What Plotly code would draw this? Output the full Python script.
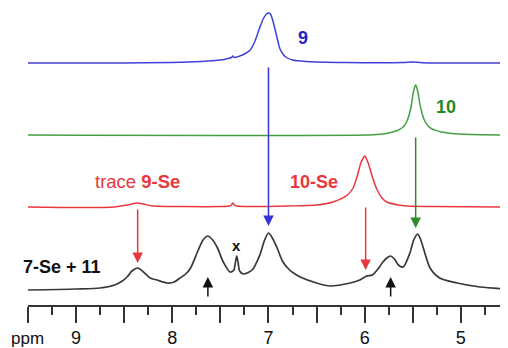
import plotly.graph_objects as go

# ---- data (ppm, intensity above each trace's own baseline) ----
blue_ppm = [9.5, 8.5, 8.0, 7.7, 7.5, 7.42, 7.385, 7.37, 7.355, 7.3, 7.25, 7.19, 7.14, 7.10, 7.05, 7.02, 7.0, 6.98, 6.96, 6.93, 6.9, 6.88, 6.85, 6.82, 6.75, 6.6, 6.2, 5.6, 5.5, 5.4, 5.0, 4.51]
blue_int = [0, 0, 0.5, 1.5, 3, 4.5, 5.5, 7, 5.5, 7, 9, 13, 22, 33, 45, 49, 50, 49, 44, 33, 21, 14, 9, 6, 3, 1.5, 0.5, 0.5, 1, 0.3, 0, 0]

green_ppm = [9.5, 6.0, 5.84, 5.75, 5.66, 5.6, 5.56, 5.52, 5.495, 5.48, 5.47, 5.46, 5.445, 5.42, 5.38, 5.34, 5.3, 5.27, 5.2, 5.1, 4.9, 4.51]
green_int = [0, 0, 0.8, 2, 4.5, 8, 14, 27, 42, 48, 50, 48, 42, 28, 15, 9, 6, 5, 3, 1.5, 0.5, 0]

red_ppm = [9.5, 8.6, 8.47, 8.40, 8.36, 8.30, 8.2, 7.9, 7.5, 7.41, 7.385, 7.37, 7.355, 7.33, 7.2, 6.8, 6.5, 6.33, 6.18, 6.12, 6.08, 6.04, 6.015, 6.0, 5.985, 5.96, 5.92, 5.87, 5.82, 5.77, 5.65, 5.56, 5.3, 4.51]
red_int = [0, 0, 2, 3.5, 4, 3, 1, 0.5, 0.5, 1, 2, 4, 2, 1, 0.5, 1, 2, 5, 12, 19, 30, 44, 49, 51, 49, 43, 30, 17, 9, 5, 2, 1, 0.5, 0]

black_ppm = [9.5, 9.0, 8.75, 8.6, 8.52, 8.47, 8.42, 8.36, 8.30, 8.23, 8.16, 8.05, 7.98, 7.92, 7.86, 7.81, 7.73, 7.68, 7.63, 7.58, 7.53, 7.47, 7.40, 7.36, 7.345, 7.33, 7.315, 7.30, 7.26, 7.17, 7.09, 7.04, 7.0, 6.96, 6.91, 6.85, 6.78, 6.74, 6.67, 6.5, 6.36, 6.15, 6.05, 5.98, 5.92, 5.87, 5.81, 5.77, 5.73, 5.69, 5.65, 5.60, 5.53, 5.49, 5.45, 5.42, 5.39, 5.32, 5.22, 5.04, 4.8, 4.51]
black_int = [0, 1, 2, 5, 9, 13, 19, 22, 18, 12, 10, 7, 8, 12, 16, 22, 40, 50, 54, 50, 42, 28, 18, 20, 27, 34, 27, 19, 16, 20, 35, 50, 57, 52, 42, 28, 20, 17, 13, 7, 4, 7, 10, 14, 15, 20, 28, 32, 34, 31, 25, 23, 37, 50, 56, 51, 42, 22, 12, 7, 3, 1]

series_names = ["9", "10", "10-Se", "7-Se + 11"]
series_offsets = [242, 170, 98, 15]
series_colors = ["#4040dc", "#44a044", "#e8383d", "#383838"]
series_widths = [1.5, 1.5, 1.5, 1.7]

# tick labels
tick_vals = [9.5, 9.0, 8.5, 8.0, 7.5, 7.0, 6.5, 6.0, 5.5, 5.0, 4.5]
tick_text = ["", "9", "", "8", "", "7", "", "6", "", "5", ""]

# arrows: x (ppm), tail height, tip height, colour
arrow_x = [7.0, 5.47, 8.36, 5.99, 7.63, 5.73]
arrow_tail = [239, 169, 97, 99, 7, 7]
arrow_tip = [79, 77, 42, 35, 28, 28]
arrow_color = ["#3434d8", "#2e8b2e", "#e8383d", "#e8383d", "#111111", "#111111"]

# labels
label_text = ["<b>9</b>", "<b>10</b>", "<b>10-Se</b>", "trace <b>9-Se</b>", "<b>7-Se + 11</b>", "<b>x</b>"]
label_x = [6.64, 5.15, 6.53, 8.36, 9.15, 7.33]
label_y = [267, 198, 123, 124, 38, 60]
label_color = ["#2323c8", "#238a23", "#e8383d", "#e8383d", "#111111", "#111111"]
label_size = [18, 18, 18, 18.5, 18, 15]

FONT = "Liberation Sans, Arial, sans-serif"
xs = [blue_ppm, green_ppm, red_ppm, black_ppm]
ys = [blue_int, green_int, red_int, black_int]

fig = go.Figure()
for name, px, py, off, col, w in zip(series_names, xs, ys, series_offsets, series_colors, series_widths):
    fig.add_trace(go.Scatter(
        x=px, y=[v + off for v in py], mode="lines", name=name,
        line=dict(color=col, width=w, shape="spline", smoothing=0.8),
        hoverinfo="skip", showlegend=False))

for ax_, t, h, c in zip(arrow_x, arrow_tail, arrow_tip, arrow_color):
    fig.add_annotation(x=ax_, y=h, ax=ax_, ay=t, xref="x", yref="y", axref="x", ayref="y",
                       text="", showarrow=True, arrowhead=2, arrowsize=1.4, arrowwidth=1.5,
                       arrowcolor=c, standoff=0, startstandoff=0)

for t, x, y, c, s in zip(label_text, label_x, label_y, label_color, label_size):
    fig.add_annotation(x=x, y=y, xref="x", yref="y", text=t, showarrow=False,
                       font=dict(family=FONT, size=s, color=c))

fig.add_annotation(x=-0.002, y=-0.112, xref="paper", yref="paper", text="ppm", showarrow=False,
                   xanchor="center", yanchor="middle",
                   font=dict(family=FONT, size=17, color="#111111"))

fig.update_xaxes(range=[9.5, 4.51], tickmode="array", tickvals=tick_vals, ticktext=tick_text,
                 ticks="outside", ticklen=16, tickwidth=1.5, tickcolor="#333333",
                 showline=True, linecolor="#333333", linewidth=1.5, showgrid=False, zeroline=False,
                 tickfont=dict(family=FONT, size=18, color="#111111"),
                 minor=dict(tickmode="linear", tick0=0, dtick=0.25, ticks="outside", ticklen=8,
                            tickwidth=1.5, tickcolor="#333333", showgrid=False))
fig.update_yaxes(range=[0, 297], visible=False, fixedrange=True)

fig.update_layout(width=500, height=340, margin=dict(l=20, r=0, t=0, b=43),
                  plot_bgcolor="white", paper_bgcolor="white")

fig.write_html("out.html")
